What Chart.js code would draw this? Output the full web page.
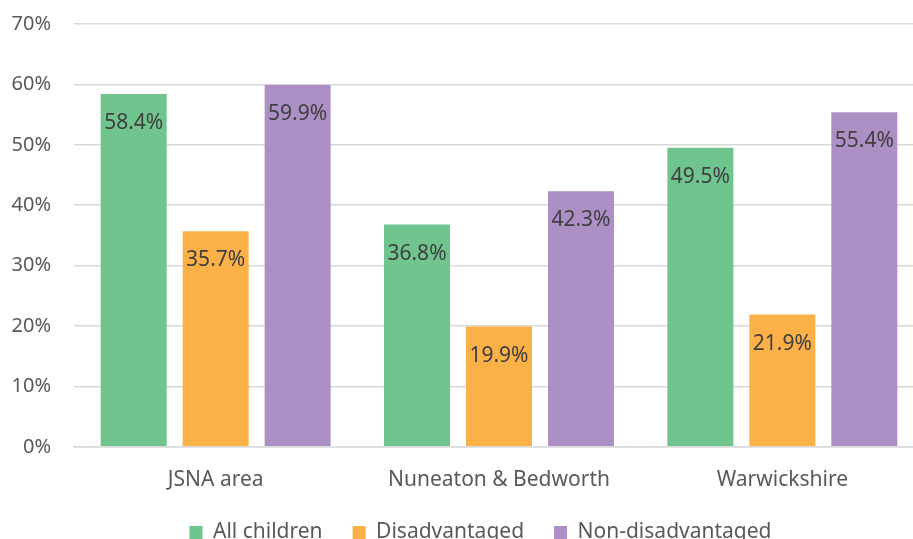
<!DOCTYPE html>
<html><head><meta charset="utf-8">
<script src="https://cdn.jsdelivr.net/npm/chart.js@4.4.0/dist/chart.umd.min.js"></script>
<style>
html,body{margin:0;padding:0;background:#fff;overflow:hidden;}
#wrap{width:913px;height:539px;overflow:hidden;position:relative;}
#inner{width:925px;height:553px;position:absolute;left:0;top:0;}
</style></head><body>
<div id="wrap"><div id="inner"><canvas id="c"></canvas></div></div>
<script>
const categories = ["JSNA area", "Nuneaton & Bedworth", "Warwickshire"];
const allChildren = [58.4, 36.8, 49.5];
const disadvantaged = [35.7, 19.9, 21.9];
const nonDisadvantaged = [59.9, 42.3, 55.4];
const seriesNames = ["All children", "Disadvantaged", "Non-disadvantaged"];
const colors = ["#70C48E", "#FBB148", "#AB8FC5"];

const FONT = "'Noto Sans', 'Open Sans', sans-serif";

const labelPlugin = {
  id: 'barLabels',
  afterDatasetsDraw(chart) {
    const ctx = chart.ctx;
    ctx.save();
    ctx.font = "21px " + FONT;
    ctx.fillStyle = "#404040";
    ctx.textAlign = "center";
    ctx.textBaseline = "middle";
    chart.data.datasets.forEach((ds, i) => {
      chart.getDatasetMeta(i).data.forEach((bar, j) => {
        ctx.fillText(ds.data[j].toFixed(1) + "%", bar.x, bar.y + 29);
      });
    });
    ctx.restore();
  }
};

const legendShift = {
  id: 'legendShift',
  afterLayout(chart) {
    if (chart.legend) { chart.legend.left += 17; chart.legend.right += 17; }
  }
};

new Chart(document.getElementById('c'), {
  type: 'bar',
  data: {
    labels: categories,
    datasets: [
      {label: seriesNames[0], data: allChildren, backgroundColor: colors[0]},
      {label: seriesNames[1], data: disadvantaged, backgroundColor: colors[1]},
      {label: seriesNames[2], data: nonDisadvantaged, backgroundColor: colors[2]}
    ]
  },
  options: {
    responsive: true,
    maintainAspectRatio: false,
    animation: false,
    categoryPercentage: 0.868,
    barPercentage: 0.805,
    layout: {padding: {left: 3, right: 1, top: 3, bottom: 0}},
    plugins: {
      tooltip: {enabled: false},
      legend: {
        position: 'bottom',
        labels: {
          font: {family: FONT, size: 21},
          color: "#595959",
          boxWidth: 13, boxHeight: 13,
          padding: 30
        }
      }
    },
    scales: {
      x: {
        grid: {display: false},
        border: {color: "#d9d9d9", width: 1.5},
        ticks: {font: {family: FONT, size: 21}, color: "#595959", padding: 13},
        afterFit(scale) { scale.height -= 14; }
      },
      y: {
        min: 0, max: 70,
        ticks: {stepSize: 10, callback: v => v + "%", font: {family: FONT, size: 20}, color: "#595959", padding: 23},
        grid: {color: "#d9d9d9", lineWidth: 1.5, drawTicks: false},
        border: {display: false},
        afterFit(scale) { scale.width = 71; scale.paddingTop = 24; scale.paddingBottom = 0; }
      }
    }
  },
  plugins: [labelPlugin, legendShift]
});
</script>
</body></html>
